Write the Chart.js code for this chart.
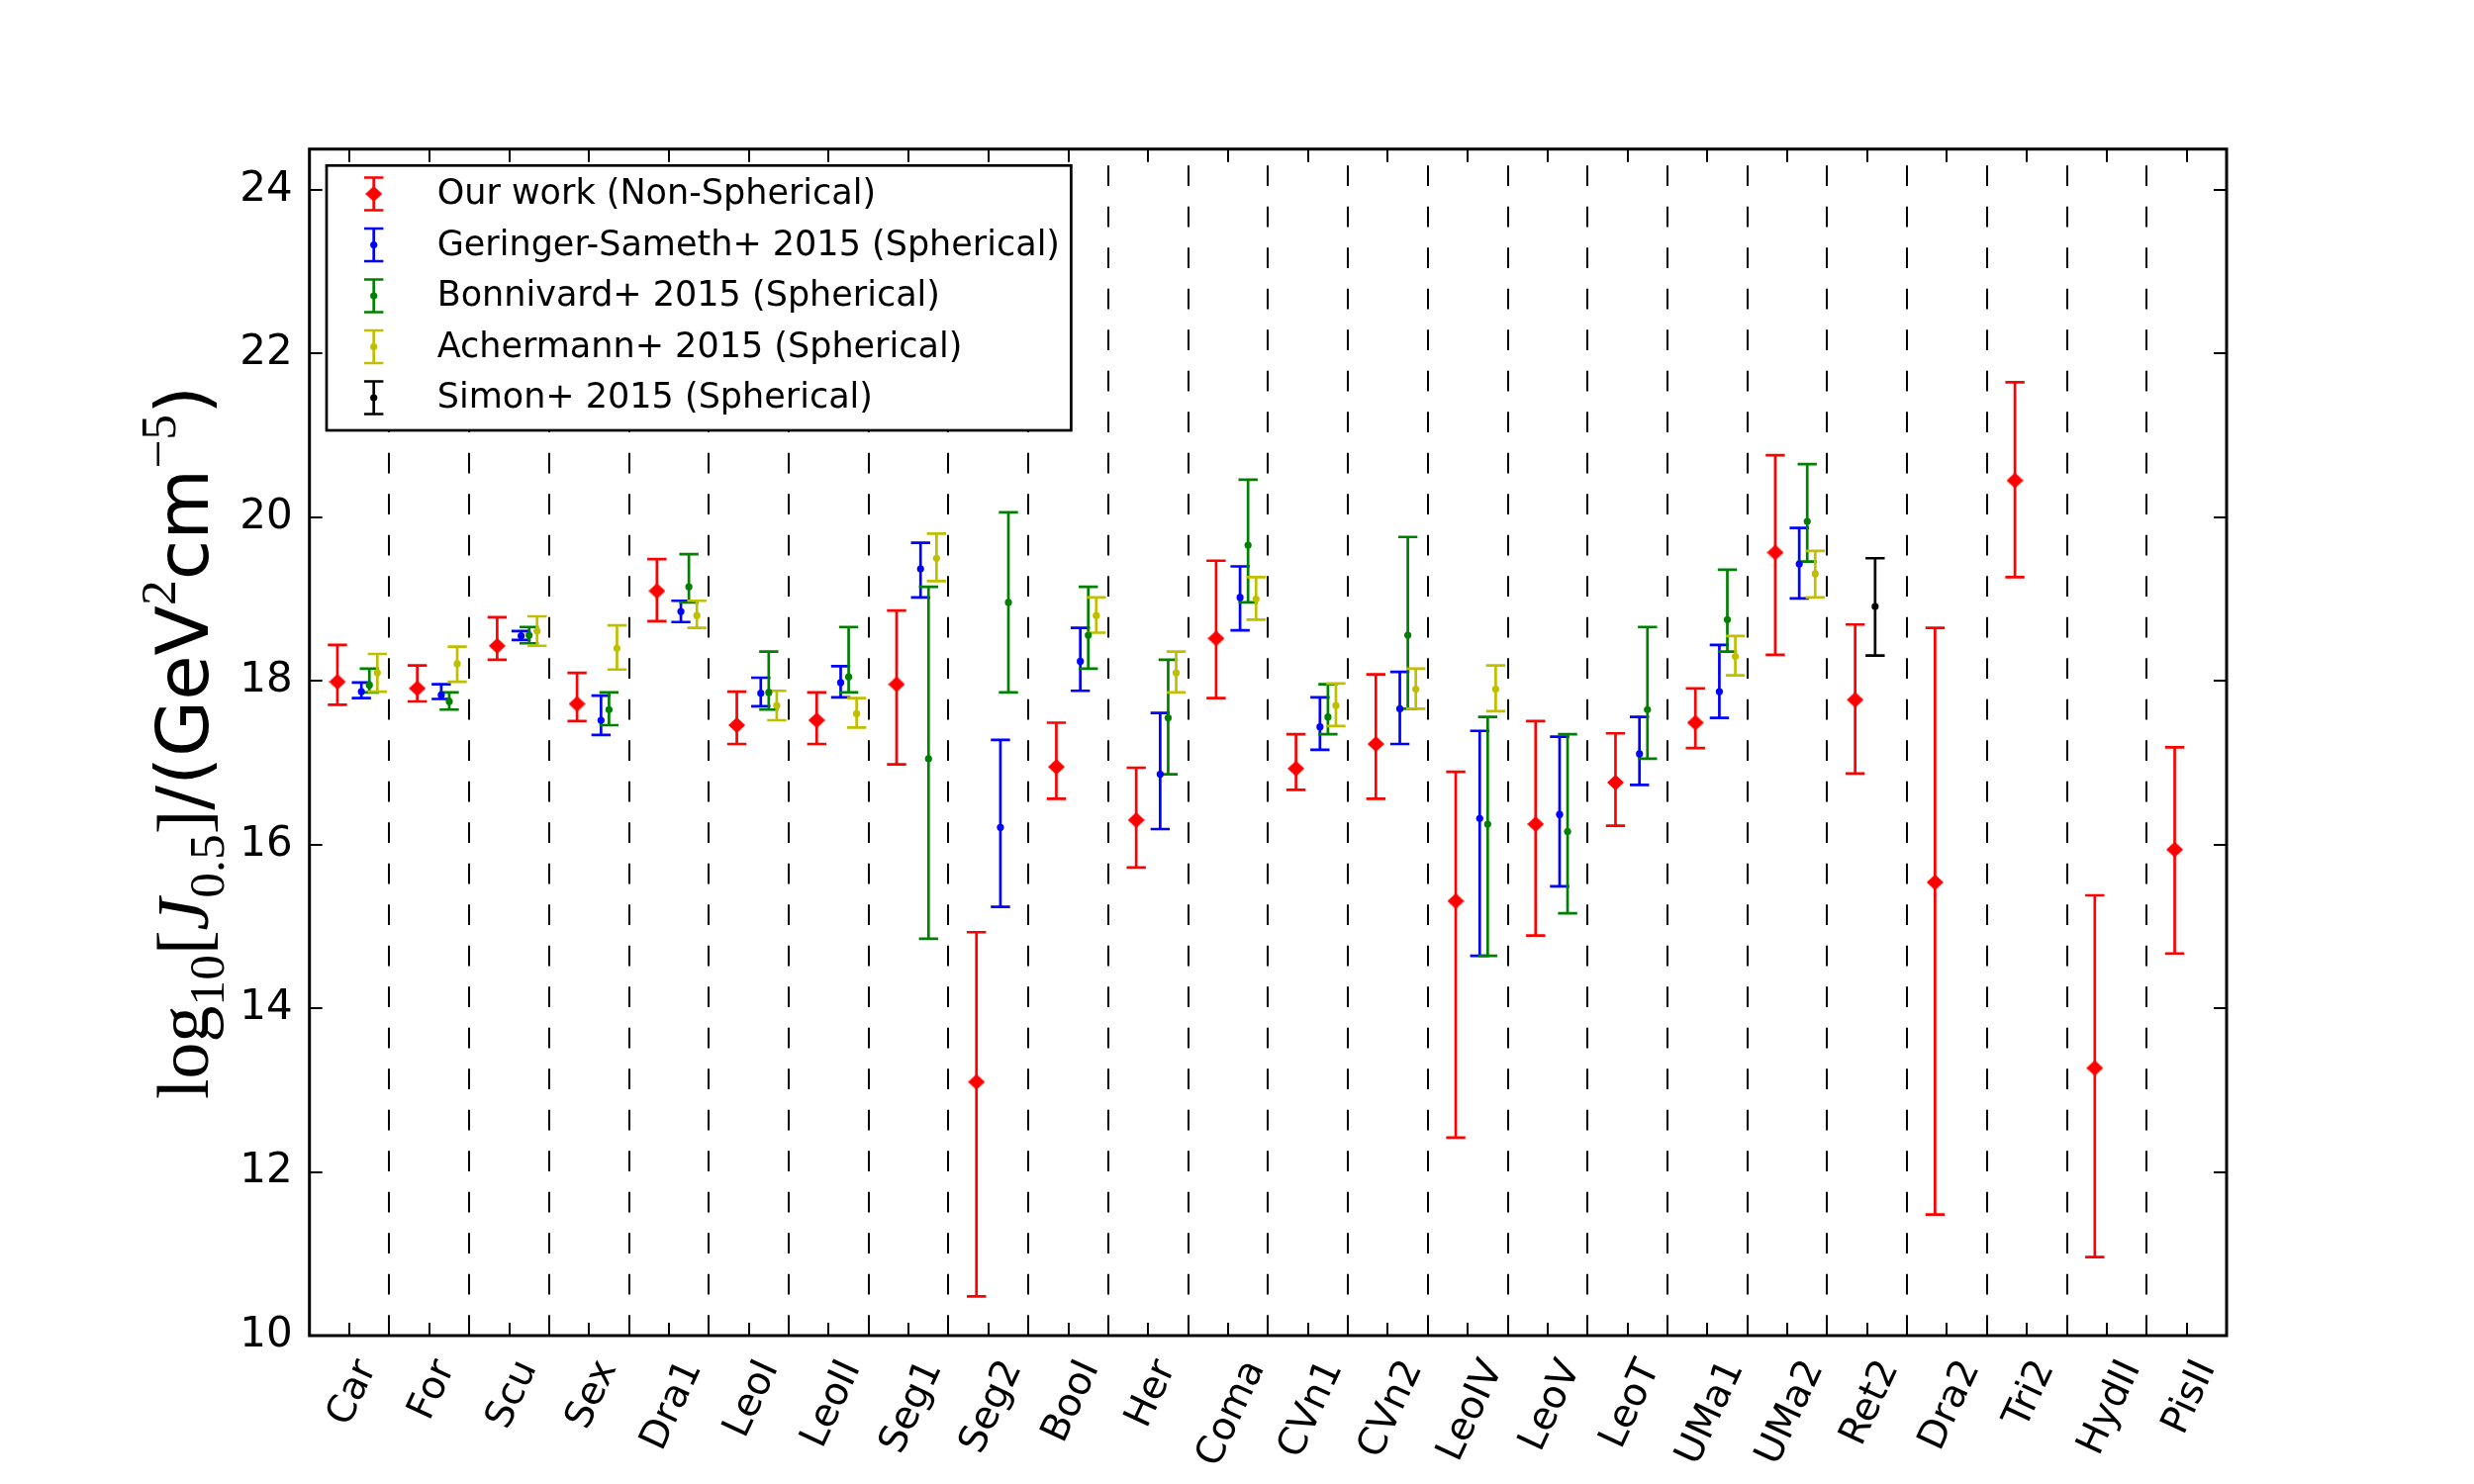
<!DOCTYPE html>
<html><head><meta charset="utf-8">
<script src="https://cdn.jsdelivr.net/npm/chart.js@4/dist/chart.umd.min.js"></script>
<style>html,body{margin:0;padding:0;background:#fff;}canvas{display:block;}</style>
</head><body>
<canvas id="c" width="2500" height="1500" style="width:2500px;height:1500px"></canvas>
<script>
const categories = ['Car','For','Scu','Sex','Dra1','LeoI','LeoII','Seg1','Seg2','BooI','Her','Coma','CVn1','CVn2','LeoIV','LeoV','LeoT','UMa1','UMa2','Ret2','Dra2','Tri2','HydII','PisII'];
const yTicks = [10,12,14,16,18,20,22,24];
const seriesNames = ['Our work (Non-Spherical)','Geringer-Sameth+ 2015 (Spherical)','Bonnivard+ 2015 (Spherical)','Achermann+ 2015 (Spherical)','Simon+ 2015 (Spherical)'];

// Our work (Non-Spherical)
const ourJ  = [17.99,17.91,18.43,17.72,19.10,17.46,17.52,17.96,13.10,16.95,16.30,18.52,16.93,17.23,15.31,16.25,16.76,17.49,19.57,17.77,15.54,20.45,13.27,15.94];
const ourLo = [17.71,17.75,18.26,17.51,18.73,17.23,17.23,16.98,10.48,16.56,15.72,17.79,16.67,16.56,12.42,14.89,16.23,17.18,18.32,16.87,11.48,19.27,10.96,14.67];
const ourHi = [18.44,18.19,18.78,18.10,19.49,17.87,17.86,18.86,14.93,17.49,16.94,19.47,17.35,18.08,16.89,17.51,17.36,17.91,20.76,18.69,18.65,21.65,15.38,17.19];
// Geringer-Sameth+ 2015
const gsJ  = [17.87,17.83,18.55,17.52,18.85,17.85,17.98,19.37,16.21,18.24,16.86,19.02,17.44,17.66,16.32,16.37,17.11,17.87,19.43,null,null,null,null,null];
const gsLo = [17.79,17.78,18.50,17.34,18.72,17.69,17.80,19.02,15.24,17.88,16.19,18.62,17.16,17.23,14.64,15.49,16.73,17.55,19.01,null,null,null,null,null];
const gsHi = [17.98,17.96,18.61,17.82,18.98,18.04,18.18,19.69,17.28,18.65,17.61,19.40,17.80,18.11,17.39,17.32,17.56,18.44,19.87,null,null,null,null,null];
// Bonnivard+ 2015
const bonJ  = [17.95,17.75,18.56,17.65,19.15,17.86,18.05,17.05,18.96,18.56,17.55,19.66,17.56,18.56,16.25,16.16,17.65,18.75,19.95,null,null,null,null,null];
const bonLo = [17.86,17.65,18.46,17.46,18.96,17.65,17.86,14.85,17.86,18.15,16.86,18.96,17.35,17.66,14.64,15.16,17.05,18.36,19.46,null,null,null,null,null];
const bonHi = [18.15,17.86,18.66,17.86,19.55,18.36,18.66,19.15,20.06,19.15,18.26,20.46,17.96,19.76,17.56,17.35,18.66,19.36,20.65,null,null,null,null,null];
// Achermann+ 2015
const achJ  = [18.10,18.21,18.61,18.40,18.80,17.70,17.60,19.50,null,18.80,18.10,19.00,17.70,17.90,17.90,null,null,18.30,19.31,null,null,null,null,null];
const achLo = [17.87,17.99,18.43,18.14,18.65,17.52,17.43,19.22,null,18.59,17.86,18.75,17.45,17.66,17.63,null,null,18.07,19.02,null,null,null,null,null];
const achHi = [18.33,18.42,18.79,18.68,18.98,17.88,17.79,19.80,null,19.02,18.36,19.27,17.97,18.15,18.19,null,null,18.55,19.59,null,null,null,null,null];
// Simon+ 2015
const simJ  = [null,null,null,null,null,null,null,null,null,null,null,null,null,null,null,null,null,null,null,18.91,null,null,null,null];
const simLo = [null,null,null,null,null,null,null,null,null,null,null,null,null,null,null,null,null,null,null,18.31,null,null,null,null];
const simHi = [null,null,null,null,null,null,null,null,null,null,null,null,null,null,null,null,null,null,null,19.50,null,null,null,null];

function diamond(color, w, h) {
  const c = document.createElement('canvas'); c.width = w; c.height = h;
  const g = c.getContext('2d'); g.fillStyle = color;
  g.beginPath(); g.moveTo(w/2,0); g.lineTo(w,h/2); g.lineTo(w/2,h); g.lineTo(0,h/2); g.closePath(); g.fill();
  return c;
}
const redDiamond = diamond('#ff0000', 17, 16);

function series(vals, lo, hi, off) {
  const out = [];
  vals.forEach((v, i) => { if (v !== null) out.push({x: i + off, y: v, lo: lo[i], hi: hi[i]}); });
  return out;
}

const CAP = 9.7;
const decor = {
  id: 'decor',
  beforeDatasetsDraw(chart) {
    const {ctx, chartArea: a, scales: {x, y}} = chart;
    ctx.save();
    ctx.strokeStyle = '#000'; ctx.lineWidth = 2; ctx.setLineDash([20.7, 20.8]);
    for (let i = 0; i < categories.length - 1; i++) {
      const px = Math.round(x.getPixelForValue(i + 0.5));
      ctx.beginPath(); ctx.moveTo(px, a.bottom); ctx.lineTo(px, a.top); ctx.stroke();
    }
    ctx.setLineDash([]);
    chart.data.datasets.forEach(ds => {
      ctx.strokeStyle = ds.borderColor; ctx.lineWidth = 2.7;
      ds.data.forEach(p => {
        const px = x.getPixelForValue(p.x), y1 = y.getPixelForValue(p.lo), y2 = y.getPixelForValue(p.hi);
        ctx.beginPath();
        ctx.moveTo(px, y1); ctx.lineTo(px, y2);
        ctx.moveTo(px - CAP, y1); ctx.lineTo(px + CAP, y1);
        ctx.moveTo(px - CAP, y2); ctx.lineTo(px + CAP, y2);
        ctx.stroke();
      });
    });
    ctx.restore();
  },
  afterDraw(chart) {
    const {ctx, chartArea: a, scales: {x, y}} = chart;
    ctx.save();
    // frame
    ctx.strokeStyle = '#000'; ctx.lineWidth = 3;
    ctx.strokeRect(a.left, a.top, a.right - a.left, a.bottom - a.top);
    // inward ticks
    ctx.lineWidth = 2;
    ctx.beginPath();
    y.ticks.forEach(t => {
      const py = Math.round(y.getPixelForValue(t.value));
      ctx.moveTo(a.left, py); ctx.lineTo(a.left + 13, py);
      ctx.moveTo(a.right, py); ctx.lineTo(a.right - 13, py);
    });
    x.ticks.forEach(t => {
      const px = Math.round(x.getPixelForValue(t.value));
      ctx.moveTo(px, a.bottom); ctx.lineTo(px, a.bottom - 13);
      ctx.moveTo(px, a.top); ctx.lineTo(px, a.top + 13);
    });
    ctx.stroke();
    // x category labels (rotated, centred on tick)
    const fs = 39, th = 65 * Math.PI / 180, capH = fs * 0.73;
    ctx.font = fs + 'px "DejaVu Sans"'; ctx.fillStyle = '#000';
    ctx.textAlign = 'center'; ctx.textBaseline = 'alphabetic';
    x.ticks.forEach(t => {
      const lab = categories[t.value];
      const px = x.getPixelForValue(t.value);
      const L = ctx.measureText(lab).width;
      const H = L * Math.sin(th) + capH * Math.cos(th);
      const cy = a.bottom + 20 + H / 2;
      ctx.save(); ctx.translate(px, cy); ctx.rotate(-th);
      ctx.fillText(lab, 0, capH / 2);
      ctx.restore();
    });
    // legend
    const lx0 = 330, ly0 = 167.3, lx1 = 1082.4, ly1 = 435;
    ctx.fillStyle = '#fff'; ctx.fillRect(lx0, ly0, lx1 - lx0, ly1 - ly0);
    ctx.strokeStyle = '#000'; ctx.lineWidth = 2.7; ctx.strokeRect(lx0, ly0, lx1 - lx0, ly1 - ly0);
    chart.data.datasets.forEach((ds, k) => {
      const cy = 196 + k * 51.5, cx = 377.7;
      ctx.strokeStyle = ds.borderColor; ctx.lineWidth = 2.7;
      ctx.beginPath();
      ctx.moveTo(cx, cy - 16.5); ctx.lineTo(cx, cy + 16.5);
      ctx.moveTo(cx - CAP, cy - 16.5); ctx.lineTo(cx + CAP, cy - 16.5);
      ctx.moveTo(cx - CAP, cy + 16.5); ctx.lineTo(cx + CAP, cy + 16.5);
      ctx.stroke();
      if (k === 0) ctx.drawImage(redDiamond, cx - 8.5, cy - 8);
      else { ctx.fillStyle = ds.borderColor; ctx.beginPath(); ctx.arc(cx, cy, 3.6, 0, 2 * Math.PI); ctx.fill(); }
      ctx.fillStyle = '#000'; ctx.font = '35px "DejaVu Sans"';
      ctx.textAlign = 'left'; ctx.textBaseline = 'middle';
      ctx.fillText(ds.label, 441.7, cy + 1);
    });
    // y-axis title
    const serif = '"Liberation Serif","DejaVu Serif",serif', sans = '"DejaVu Sans",sans-serif';
    const segs = [
      {t:'log', f:serif, s:1, dy:0}, {t:'10', f:serif, s:0.7, dy:0.22},
      {t:'[', f:serif, s:1, dy:0}, {t:'J', f:serif, s:1, dy:0, it:true},
      {t:'0.5', f:serif, s:0.7, dy:0.22}, {t:']', f:serif, s:1, dy:0},
      {t:'/(GeV', f:sans, s:1, dy:0}, {t:'2', f:serif, s:0.7, dy:-0.45},
      {t:'cm', f:sans, s:1, dy:0}, {t:'\u22125', f:serif, s:0.7, dy:-0.45},
      {t:')', f:sans, s:1, dy:0}
    ];
    const fontOf = (sg, S) => (sg.it ? 'italic ' : '') + (S * sg.s) + 'px ' + sg.f;
    let S = 75, len = 0;
    segs.forEach(sg => { ctx.font = fontOf(sg, S); len += ctx.measureText(sg.t).width; });
    S = Math.max(62, Math.min(80, S * 721 / len));
    len = 0; segs.forEach(sg => { ctx.font = fontOf(sg, S); sg.w = ctx.measureText(sg.t).width; len += sg.w; });
    ctx.save(); ctx.translate(210, 750.5); ctx.rotate(-Math.PI / 2);
    ctx.fillStyle = '#000'; ctx.textAlign = 'left'; ctx.textBaseline = 'alphabetic';
    let cx = -len / 2;
    segs.forEach(sg => { ctx.font = fontOf(sg, S); ctx.fillText(sg.t, cx, sg.dy * S); cx += sg.w; });
    ctx.restore();
    ctx.restore();
  }
};

new Chart(document.getElementById('c'), {
  type: 'scatter',
  data: {
    datasets: [
      {label: seriesNames[0], data: series(ourJ, ourLo, ourHi, -0.15), borderColor: '#ff0000', backgroundColor: '#ff0000', pointStyle: redDiamond, pointRadius: 8},
      {label: seriesNames[1], data: series(gsJ, gsLo, gsHi, 0.15), borderColor: '#0000ff', backgroundColor: '#0000ff', pointStyle: 'circle', pointRadius: 3.6, pointBorderWidth: 0},
      {label: seriesNames[2], data: series(bonJ, bonLo, bonHi, 0.25), borderColor: '#008000', backgroundColor: '#008000', pointStyle: 'circle', pointRadius: 3.6, pointBorderWidth: 0},
      {label: seriesNames[3], data: series(achJ, achLo, achHi, 0.35), borderColor: '#bfbf00', backgroundColor: '#bfbf00', pointStyle: 'circle', pointRadius: 3.6, pointBorderWidth: 0},
      {label: seriesNames[4], data: series(simJ, simLo, simHi, 0.10), borderColor: '#000000', backgroundColor: '#000000', pointStyle: 'circle', pointRadius: 3.6, pointBorderWidth: 0}
    ]
  },
  options: {
    responsive: false, devicePixelRatio: 1, animation: false,
    layout: {padding: {left: 0, right: 250, top: 150.7, bottom: 0}},
    plugins: {legend: {display: false}, tooltip: {enabled: false}},
    scales: {
      x: {
        type: 'linear', min: -0.5, max: 23.5,
        afterBuildTicks: s => { s.ticks = categories.map((_, i) => ({value: i})); },
        afterFit: s => { s.height = 150; },
        ticks: {display: false}, grid: {display: false}, border: {display: false}
      },
      y: {
        type: 'linear', min: 10, max: 24.5,
        afterBuildTicks: s => { s.ticks = yTicks.map(v => ({value: v})); },
        afterFit: s => { s.width = 312.7; },
        ticks: {padding: 17, color: '#000', font: {family: 'DejaVu Sans', size: 42}, callback: v => String(v)},
        grid: {display: false, drawTicks: false}, border: {display: false}
      }
    }
  },
  plugins: [decor]
});
</script>
</body></html>
